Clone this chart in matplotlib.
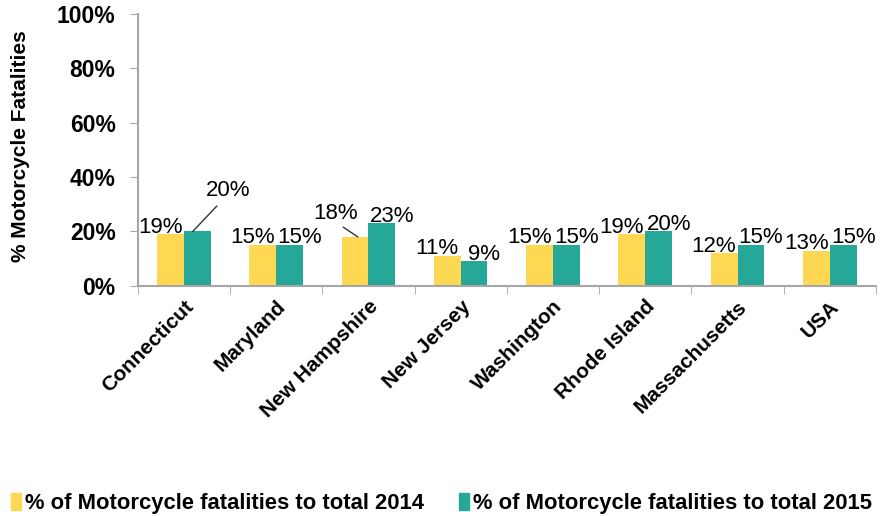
import numpy as np
import matplotlib
matplotlib.use("Agg")
import matplotlib.pyplot as plt
from matplotlib.patches import Patch

# Data
states = ["Connecticut", "Maryland", "New Hampshire", "New Jersey",
          "Washington", "Rhode Island", "Massachusetts", "USA"]
pct_2014 = [19, 15, 18, 11, 15, 19, 12, 13]
pct_2015 = [20, 15, 23, 9, 15, 20, 15, 15]
series_names = ["% of Motorcycle fatalities to total 2014",
                "% of Motorcycle fatalities to total 2015"]
yticks = [0, 20, 40, 60, 80, 100]

c14 = "#FED853"
c15 = "#26A898"
axc = "#A6A6A6"
font = ["Liberation Sans", "DejaVu Sans"]

fig = plt.figure(figsize=(8.83, 5.16), dpi=100)
ax = fig.add_axes([0.156, 0.446, 0.836, 0.527])

x = np.arange(len(states))
w = 0.29
ax.bar(x - w / 2, pct_2014, w, color=c14, zorder=2)
ax.bar(x + w / 2, pct_2015, w, color=c15, zorder=2)

ax.set_xlim(-0.5, len(states) - 0.5)
ax.set_ylim(0, 100)
ax.set_yticks(yticks)
ax.set_yticklabels([f"{v}%" for v in yticks], fontsize=16.5, fontweight="bold", family=font)
ax.set_xticks(x)
ax.set_xticklabels(states, rotation=45, ha="right", rotation_mode="anchor",
                   fontsize=15, fontweight="bold", family=font)
ax.set_xticks(np.arange(len(states) + 1) - 0.5, minor=True)
ax.tick_params(axis="x", which="major", length=0, pad=8)
ax.tick_params(axis="x", which="minor", length=6, color=axc, direction="out")
ax.tick_params(axis="y", length=6, color=axc, pad=10)
ax.set_ylabel("% Motorcycle Fatalities", fontsize=15, fontweight="bold", family=font)
ax.yaxis.set_label_coords(-0.146, 0.515)

for s in ["top", "right"]:
    ax.spines[s].set_visible(False)
for s in ["left", "bottom"]:
    ax.spines[s].set_color(axc)
    ax.spines[s].set_linewidth(1.5)

# data labels
lab = dict(fontsize=16, family=font, ha="center", va="baseline")
for i in range(len(states)):
    a, b = pct_2014[i], pct_2015[i]
    if i == 2:
        ax.annotate(f"{a}%", xy=(i - w / 2 + 0.03, a), xytext=(i - 0.36, a + 8.5),
                    ha="center", va="center", fontsize=16, family=font,
                    arrowprops=dict(arrowstyle="-", color="#333333", lw=1,
                                    relpos=(0.55, 0.05), shrinkA=0, shrinkB=0))
    else:
        ax.text(i - w / 2 - 0.11, a + 0.6, f"{a}%", **lab)
    if i == 0:
        ax.annotate(f"{b}%", xy=(i + w / 2 - 0.05, b), xytext=(i + 0.48, b + 15),
                    ha="center", va="center", fontsize=16, family=font,
                    arrowprops=dict(arrowstyle="-", color="#333333", lw=1,
                                    relpos=(0.35, 0.0), shrinkA=2, shrinkB=0))
    else:
        ax.text(i + w / 2 + 0.11, b + 0.6, f"{b}%", **lab)

handles = [Patch(color=c14), Patch(color=c15)]
fig.legend(handles, series_names, loc="lower center", bbox_to_anchor=(0.5, -0.035),
           ncol=2, frameon=False, prop=dict(family=font, size=15.8, weight="bold"),
           handlelength=0.45, handleheight=0.8, handletextpad=0.2, columnspacing=1.6)

fig.savefig("out.png", dpi=100)
